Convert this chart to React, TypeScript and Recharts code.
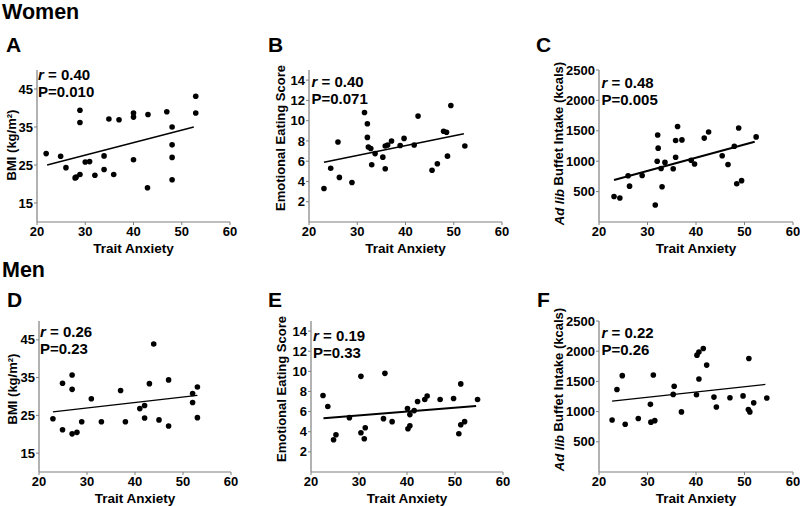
import React from 'react';
import { ScatterChart, Scatter, XAxis, YAxis, ReferenceLine } from 'recharts';

// trait anxiety (x) and outcome (y) for each panel
const womenBmiAnxiety = [21.9, 24.9, 26.0, 27.9, 28.1, 28.9, 28.9, 28.9, 30.0, 30.9, 32.0, 33.9, 33.9, 34.9, 35.9, 37.0, 40.0, 40.0, 40.0, 42.9, 43.0, 46.9, 48.0, 48.0, 48.0, 48.0, 52.9, 52.9];
const womenBmi = [28.0, 27.3, 24.3, 21.6, 21.8, 22.5, 39.4, 36.2, 25.8, 25.9, 22.3, 27.4, 23.8, 37.1, 22.5, 36.9, 38.7, 37.6, 26.4, 19.0, 38.3, 39.0, 35.0, 30.3, 27.0, 21.1, 43.1, 38.7];
const womenBmiFit = [{ x: 22.1, y: 25.0 }, { x: 52.5, y: 35.0 }];

const womenEatAnxiety = [23.1, 24.5, 26.0, 26.3, 28.9, 31.5, 32.1, 32.1, 32.3, 32.8, 33.0, 33.7, 35.3, 35.8, 35.8, 36.3, 37.1, 38.9, 39.7, 41.8, 42.6, 45.5, 46.6, 47.9, 48.5, 48.7, 49.4, 52.3];
const womenEat = [3.3, 5.3, 7.9, 4.4, 3.9, 10.8, 9.7, 8.35, 7.4, 7.25, 5.65, 6.75, 6.4, 5.25, 7.5, 7.6, 8.0, 7.55, 8.25, 7.6, 10.45, 5.1, 5.75, 8.95, 8.85, 6.5, 11.5, 7.5];
const womenEatFit = [{ x: 23.1, y: 5.9 }, { x: 52.1, y: 8.7 }];

const womenKcalAnxiety = [23.1, 24.3, 26.0, 26.3, 28.9, 31.6, 32.1, 32.2, 32.0, 32.8, 33.0, 33.6, 35.3, 35.8, 35.8, 36.2, 37.1, 39.0, 39.7, 41.7, 42.6, 45.4, 46.6, 47.9, 48.4, 48.8, 49.4, 52.4];
const womenKcal = [420, 395, 760, 590, 765, 280, 1430, 1215, 1000, 880, 580, 980, 875, 1065, 1340, 1570, 1350, 1015, 955, 1380, 1480, 1090, 945, 1245, 630, 1545, 680, 1400];
const womenKcalFit = [{ x: 23.1, y: 690 }, { x: 52.1, y: 1320 }];

const menBmiAnxiety = [22.9, 24.9, 24.9, 26.9, 26.9, 26.9, 27.9, 28.9, 30.9, 33.0, 37.0, 38.0, 41.0, 42.0, 42.0, 43.0, 43.9, 45.0, 47.0, 47.0, 52.0, 52.0, 53.0, 53.0];
const menBmi = [24.1, 33.5, 21.2, 35.7, 31.9, 20.1, 20.5, 23.3, 29.4, 23.3, 31.6, 23.3, 26.8, 27.6, 24.3, 33.4, 43.9, 23.8, 34.4, 22.2, 30.8, 28.4, 32.5, 24.4];
const menBmiFit = [{ x: 22.9, y: 25.9 }, { x: 53.0, y: 30.3 }];

const menEatAnxiety = [22.5, 23.5, 24.7, 25.2, 28.0, 30.4, 30.4, 31.1, 31.3, 35.1, 35.4, 36.9, 40.1, 40.2, 40.6, 40.6, 41.5, 42.2, 43.7, 44.2, 46.9, 49.7, 51.2, 50.8, 51.2, 52.0, 54.7];
const menEat = [7.6, 6.5, 3.2, 3.7, 5.4, 9.5, 3.9, 3.3, 4.4, 5.3, 9.8, 5.0, 6.3, 4.3, 4.6, 5.7, 6.1, 7.0, 7.2, 7.55, 7.2, 7.3, 8.75, 3.8, 4.7, 5.0, 7.2];
const menEatFit = [{ x: 22.6, y: 5.35 }, { x: 54.4, y: 6.55 }];

const menKcalAnxiety = [22.7, 23.7, 24.8, 25.4, 28.1, 30.6, 30.7, 31.5, 31.2, 35.3, 35.5, 37.0, 40.1, 40.2, 40.6, 41.5, 40.6, 42.2, 43.7, 44.2, 47.0, 49.7, 50.9, 50.8, 51.1, 51.9, 54.6];
const menKcal = [860, 1365, 1595, 790, 885, 1120, 825, 850, 1605, 1285, 1420, 995, 1280, 1935, 1985, 2045, 1540, 1770, 1240, 1075, 1230, 1260, 1880, 1035, 995, 1145, 1225];
const menKcalFit = [{ x: 22.7, y: 1175 }, { x: 54.3, y: 1450 }];

const anxietyTicks = [20, 30, 40, 50, 60];
const bmiTicks = [15, 25, 35, 45];
const eatTicks = [2, 4, 6, 8, 10, 12, 14];
const kcalTicks = [500, 1000, 1500, 2000, 2500];

const FONT = '"Liberation Sans", Arial, Helvetica, sans-serif';
const AXIS = '#7f7f7f';
const YW = 60;
const MT = 30;
const MR = 12;
const XH = 45;

const zip = (xs: number[], ys: number[]) => xs.map((x, i) => ({ x, y: ys[i] }));

const Dot = (props: any) => <circle cx={props.cx} cy={props.cy} r={2.8} fill="#000" />;

const BMI_LABEL = <>BMI (kg/m²)</>;
const EAT_LABEL = <>Emotional Eating Score</>;
const KCAL_LABEL = (
  <>
    <tspan fontStyle="italic">Ad lib</tspan> Buffet Intake (kcals)
  </>
);

const panels = [
  { id: 'A', left: 37, top: 70, w: 193, h: 152, xs: womenBmiAnxiety, ys: womenBmi, fit: womenBmiFit, dom: [10, 50], ticks: bmiTicks, label: BMI_LABEL, lx: 11, ly: 145, r: '0.40', p: 'P=0.010', ax: 38, ab: 80, fw: 1.3, letter: [6, 52] },
  { id: 'B', left: 309, top: 70, w: 193, h: 152, xs: womenEatAnxiety, ys: womenEat, fit: womenEatFit, dom: [0, 15], ticks: eatTicks, label: EAT_LABEL, lx: 280, ly: 138, r: '0.40', p: 'P=0.071', ax: 311.5, ab: 87, fw: 1.5, letter: [268, 52] },
  { id: 'C', left: 599, top: 70, w: 194, h: 152, xs: womenKcalAnxiety, ys: womenKcal, fit: womenKcalFit, dom: [0, 2500], ticks: kcalTicks, label: KCAL_LABEL, lx: 558.5, ly: 143.5, r: '0.48', p: 'P=0.005', ax: 601.5, ab: 88, fw: 2, letter: [536, 52] },
  { id: 'D', left: 39, top: 321, w: 192, h: 151, xs: menBmiAnxiety, ys: menBmi, fit: menBmiFit, dom: [10, 50], ticks: bmiTicks, label: BMI_LABEL, lx: 12, ly: 389, r: '0.26', p: 'P=0.23', ax: 40, ab: 337, fw: 1.3, letter: [7, 307] },
  { id: 'E', left: 311, top: 321, w: 192, h: 151, xs: menEatAnxiety, ys: menEat, fit: menEatFit, dom: [0, 15], ticks: eatTicks, label: EAT_LABEL, lx: 281, ly: 389, r: '0.19', p: 'P=0.33', ax: 313, ab: 341, fw: 2, letter: [268, 307] },
  { id: 'F', left: 599, top: 321, w: 194, h: 151, xs: menKcalAnxiety, ys: menKcal, fit: menKcalFit, dom: [0, 2500], ticks: kcalTicks, label: KCAL_LABEL, lx: 558.5, ly: 389.5, r: '0.22', p: 'P=0.26', ax: 601.5, ab: 338, fw: 1.3, letter: [537, 307] },
];

const tickStyle = { fill: '#000', fontSize: 13, fontWeight: 700, fontFamily: FONT };

function Panel({ cfg }: { cfg: (typeof panels)[number] }) {
  const ox = cfg.left - YW;
  const oy = cfg.top - MT;
  return (
    <div style={{ position: 'absolute', left: ox, top: oy }}>
      <ScatterChart width={YW + cfg.w + MR} height={MT + cfg.h + XH} margin={{ top: MT, right: MR, bottom: 0, left: 0 }}>
        <XAxis
          type="number"
          dataKey="x"
          domain={[20, 60]}
          ticks={anxietyTicks}
          interval={0}
          height={XH}
          tickSize={3}
          tickMargin={2}
          tick={tickStyle}
          axisLine={{ stroke: AXIS, strokeWidth: 1.2 }}
          tickLine={{ stroke: AXIS }}
          label={() => (
            <text x={YW + cfg.w / 2} y={MT + cfg.h + 31} textAnchor="middle" fontFamily={FONT} fontSize={13.5} fontWeight={700} fill="#000">
              Trait Anxiety
            </text>
          )}
        />
        <YAxis
          type="number"
          dataKey="y"
          domain={cfg.dom}
          ticks={cfg.ticks}
          interval={0}
          width={YW}
          tickSize={3}
          tickMargin={1}
          tick={tickStyle}
          axisLine={{ stroke: AXIS, strokeWidth: 1.2 }}
          tickLine={{ stroke: AXIS }}
          label={() => (
            <text
              x={cfg.lx - ox}
              y={cfg.ly - oy}
              transform={`rotate(-90, ${cfg.lx - ox}, ${cfg.ly - oy})`}
              textAnchor="middle"
              dominantBaseline="central"
              fontFamily={FONT}
              fontSize={13}
              fontWeight={700}
              fill="#000"
            >
              {cfg.label}
            </text>
          )}
        />
        <ReferenceLine segment={cfg.fit} stroke="#000" strokeWidth={cfg.fw} ifOverflow="visible" />
        <Scatter data={zip(cfg.xs, cfg.ys)} shape={Dot} isAnimationActive={false} />
      </ScatterChart>
    </div>
  );
}

export default function App() {
  return (
    <div style={{ position: 'absolute', left: 0, top: 0, width: 800, height: 506, background: '#fff', overflow: 'hidden' }}>
      {panels.map((p) => (
        <Panel key={p.id} cfg={p} />
      ))}
      <svg width={800} height={506} style={{ position: 'absolute', left: 0, top: 0, pointerEvents: 'none' }}>
        <g fontFamily={FONT} fontWeight={700} fill="#000">
          <text x={2} y={19} fontSize={21.5}>Women</text>
          <text x={2} y={277} fontSize={21.5}>Men</text>
          {panels.map((p) => (
            <g key={p.id}>
              <text x={p.letter[0]} y={p.letter[1]} fontSize={21}>{p.id}</text>
              <text x={p.ax} y={p.ab} fontSize={15}>
                <tspan fontStyle="italic">r</tspan> = {p.r}
              </text>
              <text x={p.ax} y={p.ab + 17} fontSize={15}>{p.p}</text>
            </g>
          ))}
        </g>
      </svg>
    </div>
  );
}
